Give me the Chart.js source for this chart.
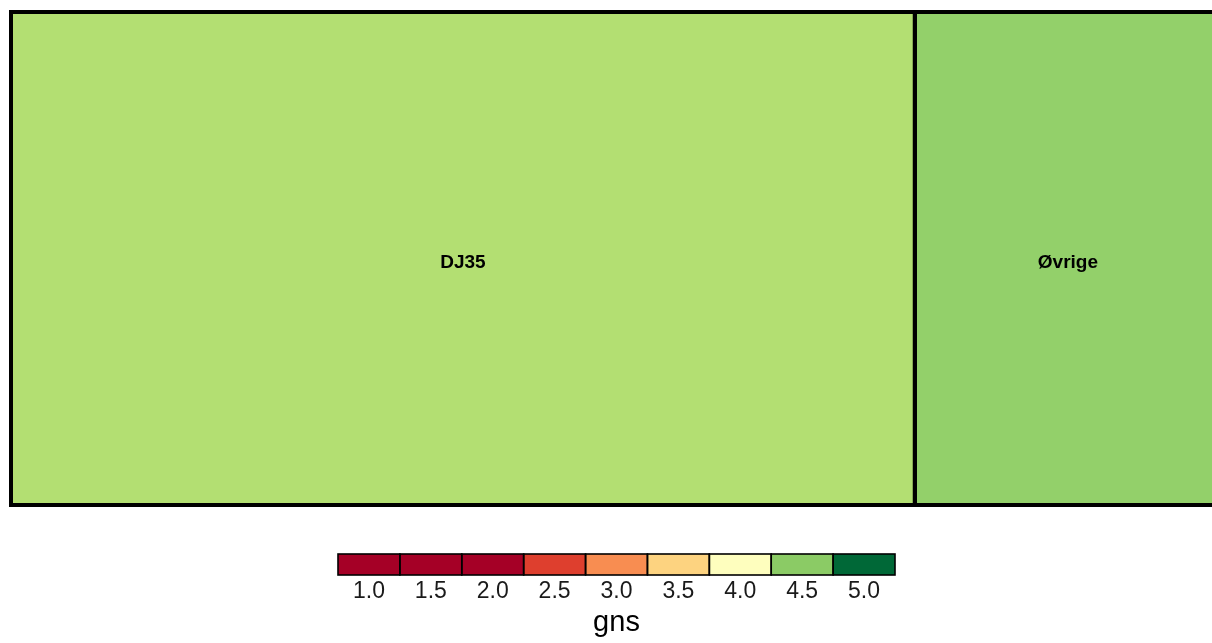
<!DOCTYPE html>
<html>
<head>
<meta charset="utf-8">
<script src="https://cdn.jsdelivr.net/npm/chart.js@4"></script>
<style>
  html, body { margin: 0; padding: 0; background: #ffffff; overflow: hidden; width: 1212px; height: 643px; }
  #main { position: absolute; left: 0; top: 0; }
  #legend { position: absolute; left: 0; top: 540px; }
</style>
</head>
<body>
<canvas id="main" width="1222" height="520"></canvas>
<canvas id="legend" width="1212" height="103"></canvas>
<script>
// ---- data ----
const categories = ['DJ35', 'Øvrige'];
const sizes = [74.7, 25.3];
const gnsValues = [4.3, 4.45];
const cellColors = ['#B3DF72', '#93D06A'];

const legendTicks = ['1.0', '1.5', '2.0', '2.5', '3.0', '3.5', '4.0', '4.5', '5.0'];
const legendColors = ['#A50026', '#A50026', '#A50026', '#DE3F2E', '#F88D51', '#FDD380', '#FEFEBE', '#8BCB65', '#006837'];
const legendTitle = 'gns';

// ---- treemap (single row of cells) via stacked horizontal bars ----
const cellPlugin = {
  id: 'cellOutlineAndLabels',
  afterDatasetsDraw(chart) {
    const ctx = chart.ctx;
    ctx.save();
    ctx.strokeStyle = '#000000';
    ctx.lineWidth = 4;
    chart.data.datasets.forEach((ds, i) => {
      const el = chart.getDatasetMeta(i).data[0];
      if (!el) return;
      const x0 = Math.min(el.x, el.base), x1 = Math.max(el.x, el.base);
      const y0 = el.y - el.height / 2;
      ctx.strokeRect(x0, y0, x1 - x0, el.height);
    });
    ctx.font = 'bold 19px "Liberation Sans", Arial, sans-serif';
    ctx.fillStyle = '#000000';
    ctx.textAlign = 'center';
    ctx.textBaseline = 'middle';
    chart.data.datasets.forEach((ds, i) => {
      const el = chart.getDatasetMeta(i).data[0];
      if (!el) return;
      const cx = (el.x + el.base) / 2;
      ctx.fillText(ds.label, cx, el.y + 4);
    });
    ctx.restore();
  }
};

new Chart(document.getElementById('main'), {
  type: 'bar',
  data: {
    labels: ['cells'],
    datasets: categories.map((c, i) => ({
      label: c,
      data: [sizes[i]],
      backgroundColor: cellColors[i],
      borderWidth: 0,
      borderSkipped: false,
      inflateAmount: 0,
      barPercentage: 1,
      categoryPercentage: 1
    }))
  },
  options: {
    indexAxis: 'y',
    responsive: false,
    animation: false,
    devicePixelRatio: 1,
    layout: { padding: { left: 11, right: 1, top: 12, bottom: 15 } },
    plugins: { legend: { display: false }, tooltip: { enabled: false }, title: { display: false } },
    scales: {
      x: { stacked: true, display: false, min: 0, max: sizes.reduce((a, b) => a + b, 0) },
      y: { stacked: true, display: false }
    }
  },
  plugins: [cellPlugin]
});

// ---- colour legend ----
const legendOutline = {
  id: 'legendOutline',
  afterDatasetsDraw(chart) {
    const ctx = chart.ctx;
    ctx.save();
    ctx.strokeStyle = '#000000';
    ctx.lineWidth = 1.6;
    chart.getDatasetMeta(0).data.forEach(el => {
      const x0 = el.x - el.width / 2;
      const y0 = Math.min(el.y, el.base), y1 = Math.max(el.y, el.base);
      ctx.strokeRect(x0, y0, el.width, y1 - y0);
    });
    ctx.restore();
  }
};

new Chart(document.getElementById('legend'), {
  type: 'bar',
  data: {
    labels: legendTicks,
    datasets: [{
      data: legendTicks.map(() => 1),
      backgroundColor: legendColors,
      borderWidth: 0,
      borderSkipped: false,
      inflateAmount: 0,
      barPercentage: 1,
      categoryPercentage: 1
    }]
  },
  options: {
    responsive: false,
    animation: false,
    devicePixelRatio: 1,
    layout: { padding: { left: 338, right: 317, top: 14, bottom: 0 } },
    plugins: { legend: { display: false }, tooltip: { enabled: false } },
    scales: {
      y: { display: false, min: 0, max: 1 },
      x: {
        afterFit(scale) { scale.height = 68; },
        grid: { display: false, drawTicks: false },
        border: { display: false },
        ticks: { color: '#1a1a1a', padding: 3, font: { family: '"Liberation Sans", Arial, sans-serif', size: 23 } },
        title: { display: true, text: legendTitle, color: '#000000', padding: { top: 0, bottom: 3 }, font: { family: '"Liberation Sans", Arial, sans-serif', size: 29 } }
      }
    }
  },
  plugins: [legendOutline]
});
</script>
</body>
</html>
